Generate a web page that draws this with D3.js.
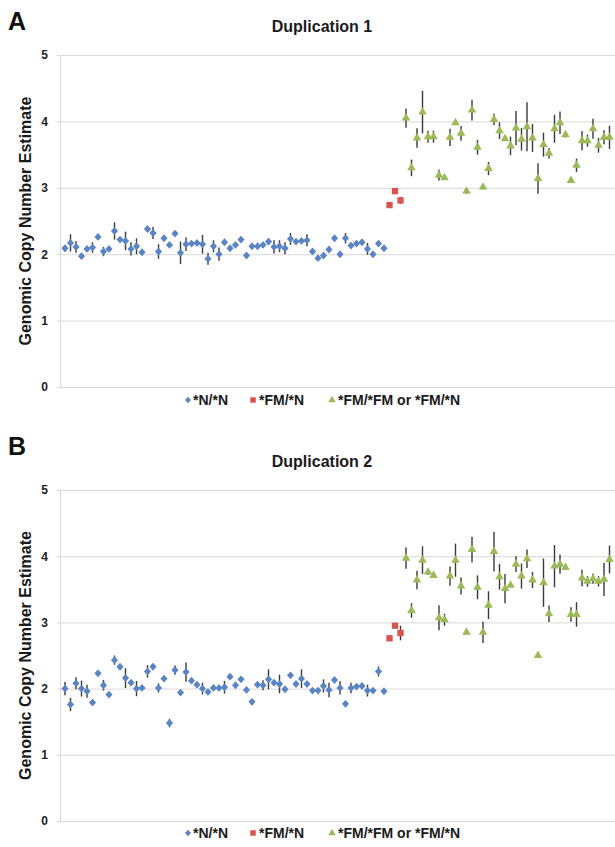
<!DOCTYPE html>
<html>
<head>
<meta charset="utf-8">
<script src="https://cdn.jsdelivr.net/npm/d3@7"></script>
<style>
  html, body { margin: 0; padding: 0; background: #fff; }
  svg { display: block; font-family: "Liberation Sans", Arial, sans-serif; }
</style>
</head>
<body>
<svg id="chart" width="615" height="847"></svg>
<script>
// ---- Data ----
const yTicks = [0, 1, 2, 3, 4, 5];
const legendLabels = ["*N/*N", "*FM/*N", "*FM/*FM or *FM/*N"];
const panelLetters = ["A", "B"];
const panelTitles = ["Duplication 1", "Duplication 2"];
const yAxisTitle = "Genomic Copy Number Estimate";

// Duplication 1
const dup1NN = [2.09,2.17,2.11,1.97,2.08,2.10,2.26,2.04,2.08,2.35,
  2.22,2.20,2.08,2.12,2.03,2.38,2.32,2.04,2.24,2.14,
  2.31,2.02,2.15,2.16,2.17,2.15,1.93,2.12,2.00,2.18,
  2.09,2.14,2.22,1.98,2.12,2.12,2.14,2.19,2.11,2.12,
  2.09,2.23,2.19,2.20,2.21,2.04,1.94,1.98,2.07,2.24,
  2.00,2.24,2.13,2.16,2.18,2.08,2.00,2.16,2.09];
const dup1NNErr = [0.05,0.13,0.09,0.03,0.04,0.08,0.04,0.07,0.03,0.13,
  0.03,0.14,0.10,0.12,0.03,0.04,0.09,0.11,0.03,0.03,
  0.03,0.17,0.10,0.03,0.03,0.14,0.09,0.09,0.10,0.03,
  0.03,0.03,0.03,0.03,0.03,0.03,0.03,0.05,0.10,0.09,
  0.09,0.09,0.03,0.03,0.09,0.03,0.03,0.03,0.03,0.03,
  0.03,0.08,0.03,0.03,0.03,0.09,0.03,0.04,0.03];
const dup1FMN = [2.74, 2.95, 2.81];
const dup1FMNErr = [0.03, 0.03, 0.05];
const dup1FMFM = [4.05,3.30,3.75,4.14,3.77,3.77,3.19,3.15,3.76,3.98,
  3.82,2.95,4.17,3.61,3.01,3.29,4.03,3.86,3.74,3.63,
  3.90,3.73,3.92,3.75,3.14,3.65,3.52,3.89,3.98,3.80,
  3.11,3.34,3.71,3.71,3.89,3.64,3.76,3.76];
const dup1FMFMErr = [0.145,0.125,0.145,0.32,0.09,0.09,0.08,0.03,0.13,0.03,
  0.11,0.04,0.155,0.11,0.03,0.10,0.085,0.125,0.03,0.14,
  0.255,0.17,0.37,0.21,0.23,0.18,0.08,0.21,0.17,0.04,
  0.03,0.10,0.145,0.09,0.15,0.11,0.105,0.175];

// Duplication 2
const dup2NN = [2.00,1.76,2.08,2.00,1.96,1.79,2.23,2.05,1.91,2.43,
  2.33,2.16,2.09,2.00,2.01,2.26,2.33,2.01,2.15,1.48,
  2.28,1.94,2.25,2.12,2.06,2.00,1.95,2.01,2.01,2.02,
  2.18,2.05,2.14,1.98,1.80,2.06,2.05,2.14,2.09,2.07,
  1.99,2.20,2.07,2.15,2.07,1.97,1.97,2.04,1.98,2.13,
  2.01,1.77,2.01,2.03,2.04,1.97,1.97,2.26,1.96];
const dup2NNErr = [0.10,0.10,0.09,0.12,0.10,0.03,0.03,0.08,0.03,0.07,
  0.03,0.15,0.04,0.115,0.04,0.095,0.03,0.07,0.03,0.065,
  0.07,0.03,0.145,0.03,0.04,0.09,0.03,0.03,0.03,0.095,
  0.03,0.03,0.03,0.03,0.03,0.03,0.075,0.15,0.03,0.14,
  0.03,0.03,0.03,0.14,0.03,0.03,0.03,0.10,0.11,0.03,
  0.10,0.04,0.08,0.03,0.03,0.09,0.03,0.075,0.03];
const dup2FMN = [2.76, 2.95, 2.84];
const dup2FMNErr = [0.03, 0.03, 0.11];
const dup2FMFM = [3.97,3.18,3.64,3.94,3.76,3.71,3.07,3.04,3.70,3.94,
  3.55,2.85,4.10,3.53,2.85,3.26,4.07,3.69,3.51,3.56,
  3.88,3.70,3.96,3.64,2.50,3.60,3.13,3.85,3.88,3.83,
  3.12,3.12,3.67,3.62,3.66,3.62,3.65,3.95];
const dup2FMFMErr = [0.16,0.11,0.14,0.21,0.04,0.04,0.19,0.09,0.145,0.25,
  0.13,0.03,0.195,0.18,0.16,0.21,0.30,0.195,0.22,0.03,
  0.12,0.19,0.14,0.12,0.03,0.365,0.125,0.32,0.145,0.03,
  0.11,0.185,0.125,0.08,0.075,0.08,0.25,0.21];

// ---- Styles ----
const colors = ["#5b84c4", "#d9534f", "#9bbb59"];
// wide diamond (Excel-style), drawn through d3.symbol's custom type interface
const wideDiamond = {
  draw(ctx, size) {
    const r = Math.sqrt(size / 2);
    ctx.moveTo(0, -r * 1.05); ctx.lineTo(r * 0.95, 0);
    ctx.lineTo(0, r * 1.05); ctx.lineTo(-r * 0.95, 0); ctx.closePath();
  }
};
const shapes = [wideDiamond, d3.symbolSquare, d3.symbolTriangle];
const shapeSizes = [28, 40, 32];
const legendSizes = [20, 30, 24];

const panels = [
  { letter: panelLetters[0], title: panelTitles[0], groups: [[dup1NN, dup1NNErr],[dup1FMN, dup1FMNErr],[dup1FMFM, dup1FMFMErr]],
    top: 55, bottom: 387, letterY: 30, titleY: 32, legendY: 405 },
  { letter: panelLetters[1], title: panelTitles[1], groups: [[dup2NN, dup2NNErr],[dup2FMN, dup2FMNErr],[dup2FMFM, dup2FMFMErr]],
    top: 490, bottom: 821, letterY: 455, titleY: 467, legendY: 838 }
];

const svg = d3.select("#chart");
const plotLeft = 60, plotRight = 615;

panels.forEach(p => {
  const pts = [];
  let idx = 0;
  p.groups.forEach((g, gi) => {
    g[0].forEach((v, k) => { pts.push({ i: idx++, v: v, e: g[1][k], g: gi }); });
  });
  const x = d3.scaleLinear().domain([0, pts.length - 1]).range([65, 609.5]);
  const y = d3.scaleLinear().domain([0, 5]).range([p.bottom, p.top]);

  const g = svg.append("g");

  // gridlines + tick labels
  const axis = d3.axisLeft(y).tickValues(yTicks).tickFormat(d3.format("d"))
    .tickSizeInner(-(plotRight - 57)).tickSizeOuter(0).tickPadding(9);
  const ag = g.append("g").attr("transform", "translate(57,0)").call(axis);
  ag.select(".domain").remove();
  ag.selectAll(".tick line").attr("stroke", "#d9d9d9").attr("stroke-width", 1);
  ag.selectAll(".tick text").attr("font-size", 12).attr("font-weight", "bold")
    .attr("fill", "#222").attr("font-family", "Liberation Sans, Arial, sans-serif");

  // vertical axis line
  g.append("line").attr("x1", plotLeft + 0.5).attr("x2", plotLeft + 0.5)
    .attr("y1", y(5)).attr("y2", y(0)).attr("stroke", "#d9d9d9");

  // error bars
  g.append("g").selectAll("line").data(pts).join("line")
    .attr("x1", d => x(d.i)).attr("x2", d => x(d.i))
    .attr("y1", d => y(d.v - d.e)).attr("y2", d => y(d.v + d.e))
    .attr("stroke", "#3a3a3a").attr("stroke-width", 1.4);

  // markers
  g.append("g").selectAll("path").data(pts).join("path")
    .attr("transform", d => `translate(${x(d.i)},${y(d.v)})`)
    .attr("d", d => d3.symbol().type(shapes[d.g]).size(shapeSizes[d.g])())
    .attr("fill", d => colors[d.g]);

  // panel letter
  svg.append("text").attr("x", 8).attr("y", p.letterY).text(p.letter)
    .attr("font-size", 25).attr("font-weight", "bold").attr("fill", "#111");

  // title
  svg.append("text").attr("x", 322).attr("y", p.titleY).attr("text-anchor", "middle")
    .text(p.title).attr("font-size", 16).attr("font-weight", "bold").attr("fill", "#1a1a1a");

  // y-axis title
  svg.append("text").attr("transform", `translate(31,${(p.top + p.bottom) / 2}) rotate(-90)`)
    .attr("text-anchor", "middle").text(yAxisTitle)
    .attr("font-size", 16).attr("font-weight", "bold").attr("fill", "#1a1a1a");

  // legend
  const legendX = [188, 253, 332];
  const legendTextX = [193, 259, 338];
  legendLabels.forEach((lab, li) => {
    svg.append("path")
      .attr("transform", `translate(${legendX[li]},${p.legendY - 5})`)
      .attr("d", d3.symbol().type(shapes[li]).size(legendSizes[li])())
      .attr("fill", colors[li]);
    svg.append("text").attr("x", legendTextX[li]).attr("y", p.legendY)
      .text(lab).attr("font-size", 14).attr("font-weight", "bold").attr("fill", "#1a1a1a");
  });
});
</script>
</body>
</html>
